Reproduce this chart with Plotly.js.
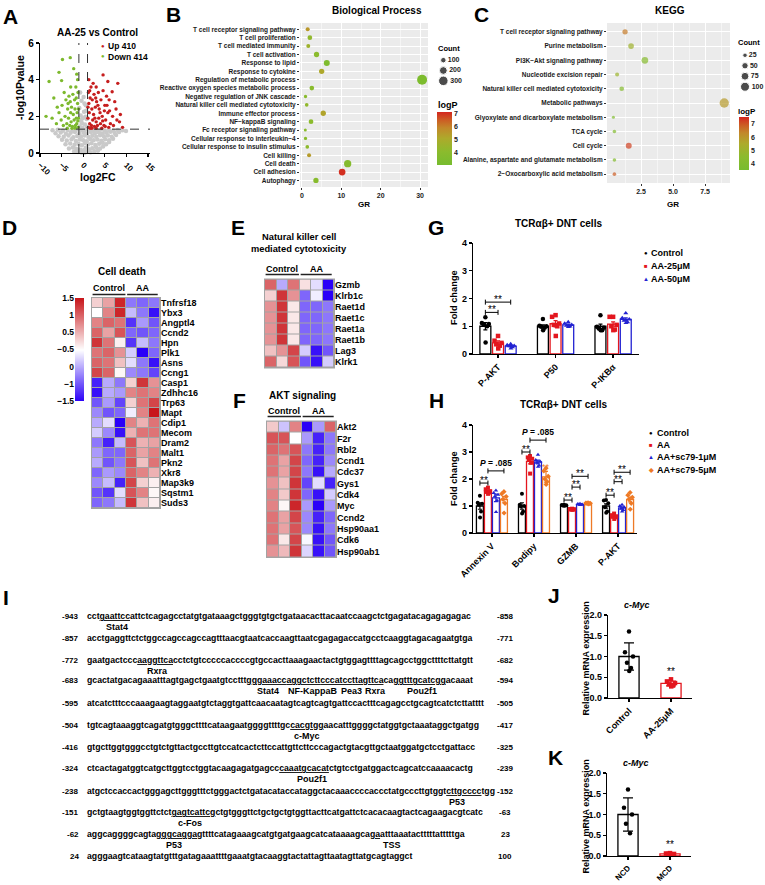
<!DOCTYPE html>
<html><head><meta charset="utf-8">
<script src="https://cdn.plot.ly/plotly-3.0.1.min.js"></script>
<style>html,body{margin:0;padding:0;background:#fff}#chart{width:765px;height:885px}</style>
</head><body><div id="chart"></div>
<script>
// ---------------- DATA ----------------
// A: volcano (log2FC, -log10P)
const volcanoNS = [[-2.1,0.08],[-1.2,0.05],[-0.4,0.03],[0.3,0.02],[0.9,0.06],[1.7,0.04],[2.6,0.09],[3.4,0.12],
[-3.3,0.25],[-2.4,0.3],[-1.6,0.22],[-0.7,0.18],[0.1,0.15],[0.6,0.28],[1.3,0.2],[2.1,0.26],[3.0,0.31],[3.9,0.24],[4.6,0.35],
[-4.1,0.48],[-3.0,0.52],[-2.0,0.45],[-1.1,0.5],[-0.3,0.42],[0.4,0.55],[1.1,0.47],[1.9,0.53],[2.8,0.44],[3.7,0.5],[4.5,0.56],[5.3,0.48],[6.0,0.6],
[-4.9,0.72],[-3.8,0.68],[-2.7,0.75],[-1.7,0.66],[-0.8,0.73],[0.0,0.7],[0.8,0.64],[1.6,0.77],[2.4,0.69],[3.3,0.74],[4.2,0.67],[5.1,0.75],[6.0,0.7],[6.9,0.78],
[-5.7,0.92],[-4.5,0.88],[-3.4,0.95],[-2.3,0.86],[-1.4,0.93],[-0.5,0.9],[0.3,0.96],[1.2,0.87],[2.1,0.94],[3.0,0.89],[3.9,0.97],[4.8,0.9],[5.7,0.95],[6.6,0.88],[7.6,0.98],
[-6.4,1.08],[-5.2,1.12],[-4.0,1.05],[-2.9,1.1],[-1.9,1.14],[-0.9,1.07],[0.1,1.12],[0.9,1.05],[1.8,1.15],[2.7,1.08],[3.6,1.13],[4.5,1.06],[5.4,1.11],[6.3,1.16],[7.3,1.09],[8.3,1.14],
[-7.1,1.24],[-5.9,1.27],[-4.7,1.22],[-3.6,1.26],[-2.5,1.23],[-1.5,1.28],[-0.5,1.25],[0.5,1.27],[1.4,1.22],[2.3,1.26],[3.2,1.24],[4.1,1.28],[5.0,1.23],[6.0,1.27],[7.0,1.22],[8.0,1.26],[9.1,1.24],[9.9,1.2],
[-0.8,1.45],[-0.3,1.62],[0.4,1.55],[0.8,1.85],[-0.6,2.05],[0.2,2.25],[-0.9,2.45],[0.6,2.6],[-0.4,2.85],[0.1,3.05],[-0.7,3.3],[0.5,1.98],[-0.2,1.38],[0.9,1.42],[-0.5,1.75],[0.3,2.7],[-0.1,1.9],[0.7,2.3]];
const volcanoDown = [[-1.2,1.4],[-1.5,1.6],[-1.1,1.9],[-1.8,1.5],[-2.1,1.8],[-1.4,2.2],[-2.5,1.45],[-2.8,1.7],[-1.9,2.4],[-1.3,2.7],[-2.3,2.1],[-3.1,1.5],[-3.4,1.9],[-2.7,2.5],[-1.6,3.0],[-3.8,1.6],[-2.0,2.9],[-1.2,3.3],[-4.2,2.0],[-3.0,2.8],[-4.6,1.5],[-1.7,3.6],[-2.4,3.2],[-3.6,2.4],[-5.1,1.8],[-1.3,4.0],[-4.0,2.9],[-2.9,3.6],[-5.6,2.2],[-6.2,1.6],[-5.0,3.95],[-5.6,4.4],[-4.8,5.1],[-3.0,5.2],[-7.9,3.9],[-8.6,2.0],[-6.0,2.5],[-6.8,3.0],[-4.4,3.3],[-1.5,4.3],[-2.2,4.6],[-7.2,1.9],[-3.3,3.1],[-1.9,1.35],[-1.1,2.4],[-2.6,1.35],[-3.7,1.35],[-4.9,2.6],[-1.6,1.9],[-2.9,2.2],[-3.5,2.7],[-1.25,1.75]];
const volcanoUp = [[1.2,1.4],[1.5,1.6],[1.1,1.9],[1.9,1.5],[2.2,1.8],[1.4,2.2],[2.6,1.45],[3.0,1.7],[2.0,2.4],[1.3,2.7],[2.4,2.1],[3.3,1.5],[3.6,1.9],[2.8,2.5],[1.6,3.0],[4.0,1.6],[2.1,2.9],[1.2,3.3],[4.4,2.0],[3.1,2.8],[4.8,1.5],[1.8,3.6],[2.5,3.2],[3.7,2.4],[5.2,1.8],[1.3,4.0],[4.1,2.9],[3.0,3.6],[5.7,2.2],[6.3,1.6],[4.6,4.26],[5.7,3.9],[8.0,3.8],[6.7,3.34],[7.3,2.8],[8.4,1.7],[9.1,1.4],[5.0,2.6],[6.0,2.9],[5.4,3.1],[4.6,3.4],[3.5,3.3],[2.3,3.8],[6.8,2.0],[7.6,2.4],[5.9,1.4],[7.0,1.5],[4.3,1.35],[3.0,1.35],[2.0,1.35],[1.6,1.35],[1.1,2.5],[2.7,1.9],[3.9,2.2],[4.9,2.3],[5.5,2.6],[6.1,2.3],[4.5,1.75],[5.1,1.45],[3.4,2.6],[2.9,3.0],[1.5,3.4],[8.6,2.1],[7.8,1.8]];
const volcanoLegend = ['Up 410', 'Down 414'];
const fcCut = 1, pCut = 1.3;

// B: GO Biological Process
const bpTerms = ['T cell receptor signaling pathway','T cell proliferation','T cell mediated immunity','T cell activation','Response to lipid','Response to cytokine','Regulation of metabolic process','Reactive oxygen species metabolic process','Negative regulation of JNK cascade','Natural killer cell mediated cytotoxicity','Immune effector process','NF\u2212kappaB signaling','Fc receptor signaling pathway','Cellular response to interleukin\u22124','Cellular response to insulin stimulus','Cell killing','Cell death','Cell adhesion','Autophagy'];
const bpGR = [1.45,2.0,1.6,3.7,6.3,5.0,30.5,2.5,0.9,1.2,5.4,2.3,0.85,0.9,1.35,1.8,11.6,10.2,3.55];
const bpCount = [53,73,53,93,119,93,330,73,36,45,93,73,30,36,45,53,176,148,93];
const bpLogP = [5.5,4.2,4.6,4.0,3.4,5.1,3.3,3.9,3.9,4.2,5.2,4.0,3.9,3.9,4.1,5.4,3.7,7.0,3.8];
const bpCountLegend = [100,200,300];

// C: KEGG
const keggTerms = ['T cell receptor signaling pathway','Purine metabolism','PI3K\u2212Akt signaling pathway','Nucleotide excision repair','Natural killer cell mediated cytotoxicity','Metabolic pathways','Glyoxylate and dicarboxylate metabolism','TCA cycle','Cell cycle','Alanine, aspartate and glutamate metabolism','2\u2212Oxocarboxylic acid metabolism'];
const keggGR = [1.25,1.72,2.8,0.63,0.99,9.0,0.34,0.42,1.54,0.42,0.42];
const keggCount = [35,40,55,20,27,107,12,16,44,16,16];
const keggLogP = [6.5,5.1,4.3,5.0,4.2,5.9,4.0,4.1,7.2,4.1,6.9];
const keggCountLegend = [25,50,75,100];

// D/E/F heatmaps (z-scores; columns Control x3, AA x3)
const heatGroups = ['Control','AA'];
const heatScaleTicks = [1.5,1,0.5,0,-0.5,-1,-1.5];
const heatScaleText = ['1.5','1','0.5','\u22120.5','0','\u22121','\u22121.5'];
const deathGenes = ['Tnfrsf18','Ybx3','Angptl4','Ccnd2','Hpn','Plk1','Asns','Ccng1','Casp1','Zdhhc16','Trp63','Mapt','Cdip1','Mecom','Dram2','Malt1','Pkn2','Xkr8','Map3k9','Sqstm1','Suds3'];
const deathZ = [[0.3,0.6,1.4,-0.8,-0.9,-0.8],[0.0,0.8,1.4,-0.4,-0.8,-1.4],[0.8,1.0,0.9,-1.2,-0.6,-1.0],[1.0,0.6,1.1,-0.9,-1.0,-0.9],[1.3,0.9,0.1,-1.2,-0.4,-0.8],[0.9,1.0,0.7,-0.3,-1.5,-0.9],[1.0,0.9,0.4,-0.2,-0.8,-1.4],[1.2,1.0,0.05,-0.7,-0.8,-1.1],[-1.3,-0.5,-0.8,0.3,1.3,0.7],[-1.4,-0.5,-0.6,0.8,0.9,0.8],[-1.0,-0.6,-1.1,0.3,0.9,1.2],[-0.7,-1.0,-0.9,-0.1,0.8,1.5],[-0.5,-0.2,-1.5,0.8,0.5,0.9],[-0.3,-0.7,-1.4,0.5,0.9,0.9],[-0.8,-1.3,-0.4,1.1,0.5,0.6],[-0.6,-0.9,-0.9,1.0,0.6,0.8],[-0.5,-1.0,-0.8,1.1,0.4,0.9],[-0.9,-0.6,-0.7,1.0,0.8,0.5],[-0.7,-0.4,-1.3,1.2,0.3,0.1],[-1.0,-1.2,-0.2,1.1,0.8,0.05],[-0.9,-0.8,-0.4,1.3,0.4,0.1]];
const nkGenes = ['Gzmb','Klrb1c','Raet1d','Raet1c','Raet1a','Raet1b','Lag3','Klrk1'];
const nkZ = [[1.0,-0.5,0.9,0.2,-0.2,-1.5],[0.3,1.3,0.7,-0.9,-0.1,-1.5],[0.7,1.3,0.15,-0.9,-0.9,-0.8],[0.7,1.3,0.15,-0.9,-0.9,-0.8],[0.7,1.3,0.15,-0.9,-0.9,-0.8],[0.7,1.3,0.15,-0.9,-0.9,-0.8],[0.4,0.7,1.2,-0.3,-1.4,-1.0],[1.0,0.25,1.1,-1.0,-1.4,-0.3]];
const aktGenes = ['Akt2','F2r','Rbl2','Ccnd1','Cdc37','Gys1','Cdk4','Myc','Ccnd2','Hsp90aa1','Cdk6','Hsp90ab1'];
const aktZ = [[0.35,-0.35,0.8,-1.5,-0.6,1.0],[1.1,1.1,0.0,-0.6,-1.3,-0.8],[1.0,0.9,1.1,-0.8,-1.3,-0.8],[0.9,0.6,1.2,-0.9,-1.3,-0.7],[0.9,0.6,1.2,-0.8,-1.4,-0.5],[0.7,0.4,1.3,-1.1,-0.2,-1.3],[0.8,0.35,1.3,-0.9,-1.4,-0.3],[0.8,0.05,1.4,-0.6,-1.5,-0.6],[0.9,0.6,1.2,-0.7,-1.3,-0.9],[0.9,0.6,1.1,-0.7,-1.4,-0.8],[0.9,0.15,1.2,-0.05,-1.4,-1.0],[0.7,0.45,1.3,-0.25,-1.4,-1.0]];

// G: TCRab+ DNT cells (fold change)
const gCats = ['P-AKT','P50','P-IKB\u03b1'];
const gSeries = ['Control','AA-25\u03bcM','AA-50\u03bcM'];
const gMean = [[1.0,1.0,1.0],[0.4,1.09,1.08],[0.285,1.05,1.25]];
const gErr = [[0.13,0.05,0.08],[0.07,0.11,0.08],[0.025,0.03,0.05]];
const gPoints = [
 [[1.32,1.12,1.08,1.05,1.0,0.41],[1.26,1.02,1.0,0.98,0.95,0.86],[1.4,0.98,0.95,0.92,0.86,0.86]],
 [[0.65,0.48,0.4,0.35,0.3,0.2],[1.4,1.34,1.1,1.05,1.0,0.65],[1.34,1.34,1.05,1.0,0.88,0.86]],
 [[0.36,0.32,0.3,0.28,0.25,0.2],[1.15,1.1,1.05,1.02,1.0,0.98],[1.47,1.3,1.25,1.2,1.15,1.12]]];
const gSig = [{g:0,a:0,b:1,y:1.5,t:'**'},{g:0,a:0,b:2,y:1.87,t:'**'}];

// H: TCRab+ DNT cells with sc79
const hCats = ['Annexin V','Bodipy','GZMB','P-AKT'];
const hSeries = ['Control','AA','AA+sc79-1\u03bcM','AA+sc79-5\u03bcM'];
const hMean = [[1.0,1.0,1.03,1.0],[1.55,2.65,0.88,0.62],[1.3,2.63,1.06,0.93],[1.24,2.08,1.1,1.24]];
const hErr = [[0.12,0.12,0.01,0.08],[0.04,0.09,0.02,0.03],[0.14,0.07,0.02,0.04],[0.12,0.2,0.02,0.09]];
const hPoints = [
 [[1.38,1.12,1.08,1.05,0.8,0.57],[1.45,1.05,1.0,0.98,0.8,0.72],[1.05,1.04,1.03,1.02,1.02,1.01],[1.22,1.2,1.1,0.95,0.8,0.75]],
 [[1.68,1.62,1.55,1.52,1.5,1.45],[2.85,2.8,2.75,2.7,2.6,2.2],[0.9,0.89,0.88,0.87,0.87,0.86],[0.72,0.66,0.62,0.6,0.58,0.52]],
 [[1.57,1.48,1.42,1.35,1.2,0.78],[2.9,2.7,2.65,2.6,2.5,2.45],[1.08,1.07,1.06,1.06,1.05,1.04],[1.05,1.0,0.95,0.9,0.85,0.8]],
 [[1.53,1.45,1.35,1.25,1.1,0.74],[2.4,2.3,2.1,2.0,1.9,1.8],[1.12,1.11,1.1,1.1,1.09,1.08],[1.5,1.4,1.32,1.25,1.1,0.88]]];
const hSig = [{g:0,a:0,b:1,y:1.85,t:'**'},{g:0,a:1,b:3,y:2.3,t:'<i>P</i> = .085'},
 {g:1,a:0,b:1,y:3.0,t:'**'},{g:1,a:1,b:3,y:3.44,t:'<i>P</i> = .085'},
 {g:2,a:0,b:1,y:1.22,t:'**'},{g:2,a:1,b:2,y:1.7,t:'**'},{g:2,a:1,b:3,y:2.1,t:'**'},
 {g:3,a:0,b:1,y:1.4,t:'**'},{g:3,a:1,b:2,y:1.9,t:'**'},{g:3,a:1,b:3,y:2.25,t:'**'}];
const hMarks = [{g:1,s:3,t:'**'}];

// I: promoter sequence ([..] = underlined binding site)
const seqStart = ['-943','-857','-772','-683','-595','-504','-416','-324','-238','-151','-62','24'];
const seqEnd = ['-858','-771','-682','-594','-505','-417','-325','-239','-152','-63','23','100'];
const seqLines = [
 'cct[gaattcc]attctcagagcctatgtgataaagctgggtgtgctgataacacttacaatccaagctctgagatacagagagagac',
 'acctgaggttctctggccagccagccagtttaacgtaatcaccaagttaatcgagagaccatgcctcaaggtagacagaatgtga',
 'gaatgactccc[aaggttca]cctctgtcccccaccccgtgccacttaaagaactactgtggagttttagcagcctggcttttcttatgtt',
 'gcactatgacagaaatttagtgagctgaatgtcctttg[ggaaacc][aggctctt][cccatcc][ttagttca]ca[ggtttgcatcgg]acaaat',
 'atcatctttcccaaagaagtaggaatgtctaggtgattcaacaatagtcagtcagtgattccactttcagagcctgcagtcatctcttatttt',
 'tgtcagtaaaggtcagatgtgggcttttcataagaatggggttttgc[cacgtgg]aacatttggggctatggtgctaaataggctgatgg',
 'gtgcttggtgggcctgtctgttactgccttgtccatcactcttccattgttcttcccagactgtacgttgctaatggatgctcctgattacc',
 'ctcactagatggtcatgcttggtcctggtacaagagatgagcc[caaatgcacat]ctgtcctgatggactcagcatccaaaacactg',
 'atgctccaccactgggagcttgggtttctgggactctgatacataccataggctacaaaccccaccctatgcccttgtggt[cttgcccc]tgg',
 'gctgtaagtggtggttctct[gagtcattcg]ctgtgggttctgctgctgtggttacttcatgattctcacacaagtactcagaagacgtcatc',
 'aggcaggggcagta[gggcagga]gttttcatagaaagcatgtgatgaagcatcataaaagca[ga]atttaaatactttttatttttga',
 'agggaagtcataagtatgtttgatagaaattttgaaatgtacaaggtactattagttaatagttatgcagtaggct'];
const seqSites = [[0,'Stat4'],[2,'Rxra'],[3,'Stat4'],[3,'NF-KappaB'],[3,'Pea3'],[3,'Rxra'],[3,'Pou2f1'],[5,'c-Myc'],[7,'Pou2f1'],[8,'P53'],[9,'c-Fos'],[10,'P53'],[10,'TSS']];

// J / K: c-Myc relative mRNA expression
const jCats = ['Control','AA-25\u03bcM'];
const jMean = [1.0,0.35];
const jErr = [0.33,0.06];
const jPoints = [[1.6,1.1,1.0,0.85,0.72,0.65],[0.45,0.4,0.36,0.33,0.3,0.28]];
const kCats = ['NCD','MCD'];
const kMean = [1.0,0.05];
const kErr = [0.4,0.01];
const kPoints = [[1.6,1.16,1.0,0.78,0.55],[0.07,0.06,0.05,0.05,0.04]];
const mycSig = '**';

// ---------------- LAYOUT HELPERS ----------------
const W = 765, H = 885;
const PX = x => x / W, PY = y => 1 - y / H;
const DX = (a, b) => [a / W, b / W];
const DY = (t, b) => [1 - b / H, 1 - t / H];
const FONT = 'Liberation Sans, Arial, sans-serif';
const F = (size, extra) => Object.assign({family: FONT, size: size, color: '#000', weight: 'bold'}, extra || {});
const annotations = [], shapes = [], traces = [];
function txt(x, y, text, o) {
  o = o || {};
  const a = Object.assign({xref: 'paper', yref: 'paper', x: PX(x), y: PY(y), text: text, showarrow: false,
    xanchor: 'center', yanchor: 'middle', borderpad: 0}, o);
  a.font = F(o.size || 9, o.font || {});
  delete a.size;
  return annotations.push(a);
}
function gp(extra) {
  return Object.assign({showline: true, linecolor: '#000', linewidth: 1.3, ticks: 'outside', ticklen: 3,
    tickwidth: 1.3, tickcolor: '#000', showgrid: false, zeroline: false, fixedrange: true,
    tickfont: F(9)}, extra);
}
function gg(extra) {
  return Object.assign({showline: false, ticks: 'outside', ticklen: 2, tickwidth: 1, tickcolor: '#333',
    showgrid: true, gridcolor: '#fff', gridwidth: 1, zeroline: false, fixedrange: true,
    tickfont: F(7, {color: '#222'})}, extra);
}
function hidden(dom, range, anchor) {
  return {domain: dom, range: range, visible: false, fixedrange: true, anchor: anchor};
}
const layout = {width: W, height: H, margin: {l: 0, r: 0, t: 0, b: 0}, autosize: false,
  paper_bgcolor: '#fff', plot_bgcolor: 'rgba(0,0,0,0)', showlegend: false, barmode: 'overlay',
  font: F(9), annotations: annotations, shapes: shapes};

// panel letters
[['A',2,16],['B',165,14],['C',473,14],['D',1,228],['E',230,228],['F',232,400],['G',427,227],['H',428,400],['I',2,597],['J',547,595],['K',547,757]]
  .forEach(l => txt(l[1], l[2], l[0], {xanchor: 'left', size: 21}));

// ---------------- A: volcano ----------------
layout.xaxis = gp({domain: DX(40, 150), range: [-10, 15.46], anchor: 'y', tickvals: [-10,-5,0,5,10,15], tickangle: 45, tickfont: F(8)});
layout.yaxis = gp({domain: DY(43, 153), range: [0, 6], anchor: 'x', dtick: 2, tickfont: F(10)});
[[volcanoNS,'#C9C9C9',4.5],[volcanoDown,'#7DB92E',3.4],[volcanoUp,'#C61E1E',3.4]].forEach(v => traces.push({
  type: 'scatter', mode: 'markers', x: v[0].map(p => p[0]), y: v[0].map(p => p[1]), xaxis: 'x', yaxis: 'y',
  marker: {color: v[1], size: v[2]}, hoverinfo: 'skip', cliponaxis: false}));
[-fcCut, fcCut].forEach(c => shapes.push({type: 'line', xref: 'x', yref: 'y', x0: c, x1: c, y0: 0, y1: 6, line: {color: '#333', width: 1, dash: 'dash'}}));
shapes.push({type: 'line', xref: 'x', yref: 'y', x0: -10, x1: 15.46, y0: pCut, y1: pCut, line: {color: '#333', width: 1, dash: 'dash'}});
txt(98, 32, 'AA-25 vs Control', {size: 10});
txt(20, 88, '-log10Pvalue', {size: 10.5, textangle: -90});
txt(98, 177, 'log2FC', {size: 10.5});
txt(103, 46.5, '<span style="color:#C61E1E;font-size:6px">\u25CF</span>', {});
txt(103, 56.5, '<span style="color:#7DB92E;font-size:6px">\u25CF</span>', {});
txt(107, 46.5, volcanoLegend[0], {xanchor: 'left', size: 8.5});
txt(107, 57, volcanoLegend[1], {xanchor: 'left', size: 8.5});

// ---------------- B / C: enrichment dot plots ----------------
const goScale = [[0,'#77BC2F'],[0.25,'#8BBB2D'],[0.5,'#ADAA2B'],[0.7,'#C2882A'],[0.85,'#CC5C24'],[1,'#D4261F']];
const bpSize = c => 0.55 * Math.sqrt(c);
const kgSize = c => 0.9 * Math.sqrt(c);
shapes.push({type: 'rect', xref: 'paper', yref: 'paper', x0: PX(300), x1: PX(428), y0: PY(187), y1: PY(23), fillcolor: '#EBEBEB', line: {width: 0}, layer: 'below'});
shapes.push({type: 'rect', xref: 'paper', yref: 'paper', x0: PX(607), x1: PX(730), y0: PY(183), y1: PY(23), fillcolor: '#EBEBEB', line: {width: 0}, layer: 'below'});
layout.xaxis2 = gg({domain: DX(300, 428), range: [-0.5, 32], anchor: 'y2', tickvals: [0,10,20,30],
  minor: {tickvals: [5,15,25], showgrid: true, gridcolor: '#fff', gridwidth: 0.5, ticks: ''}});
layout.yaxis2 = gg({domain: DY(23, 187), type: 'category', categoryarray: bpTerms, tickmode: 'array', tickvals: bpTerms,
  range: [bpTerms.length - 1 + 0.78, -0.75], anchor: 'x2', tickfont: F(6.5, {color: '#1a1a1a'})});
traces.push({type: 'scatter', mode: 'markers', x: bpGR, y: bpTerms, xaxis: 'x2', yaxis: 'y2', hoverinfo: 'skip',
  marker: {size: bpCount.map(bpSize), color: bpLogP, colorscale: goScale, cmin: 3.0, cmax: 7.1, line: {width: 0}, opacity: 1,
    showscale: true, colorbar: {x: PX(437), xanchor: 'left', y: PY(112), yanchor: 'top', len: 53, lenmode: 'pixels',
      thickness: 15, thicknessmode: 'pixels', xpad: 0, ypad: 0, outlinewidth: 0, ticks: '', tickvals: [4,5,6,7], tickfont: F(7, {color: '#222'})}}});
txt(364, 205, 'GR', {size: 8});
txt(377, 11, 'Biological Process', {size: 10});
txt(437, 48, 'Count', {xanchor: 'left', size: 7.5});
txt(437, 105, 'logP', {xanchor: 'left', size: 9});
layout.xaxis12 = hidden(DX(438, 470), [-1, 5], 'y12');
layout.yaxis12 = hidden(DY(55, 86), [2.5, -0.5], 'x12');
traces.push({type: 'scatter', mode: 'markers+text', x: bpCountLegend.map(() => 0), y: bpCountLegend.map((c, i) => i), xaxis: 'x12', yaxis: 'y12',
  text: bpCountLegend.map(String), textposition: 'middle right', textfont: F(7, {color: '#222'}), cliponaxis: false, hoverinfo: 'skip',
  marker: {size: bpCountLegend.map(bpSize), color: '#000'}});

layout.xaxis3 = gg({domain: DX(607, 730), range: [-0.16, 9.45], anchor: 'y3', tickvals: [2.5,5,7.5], ticktext: ['2.5','5.0','7.5'],
  minor: {tickvals: [1.25,3.75,6.25,8.75], showgrid: true, gridcolor: '#fff', gridwidth: 0.5, ticks: ''}});
layout.yaxis3 = gg({domain: DY(23, 183), type: 'category', categoryarray: keggTerms, tickmode: 'array', tickvals: keggTerms,
  range: [keggTerms.length - 1 + 0.62, -0.62], anchor: 'x3', tickfont: F(6.5, {color: '#1a1a1a'})});
traces.push({type: 'scatter', mode: 'markers', x: keggGR, y: keggTerms, xaxis: 'x3', yaxis: 'y3', hoverinfo: 'skip',
  marker: {size: keggCount.map(kgSize), color: keggLogP, colorscale: goScale, cmin: 3.55, cmax: 7.5, line: {width: 0},
    showscale: true, colorbar: {x: PX(739), xanchor: 'left', y: PY(117), yanchor: 'top', len: 53, lenmode: 'pixels',
      thickness: 10, thicknessmode: 'pixels', xpad: 0, ypad: 0, outlinewidth: 0, ticks: '', tickvals: [4,5,6,7], tickfont: F(7, {color: '#222'})}}});
txt(673, 205, 'GR', {size: 8});
txt(670, 11, 'KEGG', {size: 10});
txt(737, 42, 'Count', {xanchor: 'left', size: 7.5});
txt(737, 111, 'logP', {xanchor: 'left', size: 8});
layout.xaxis13 = hidden(DX(740, 765), [-1, 4], 'y13');
layout.yaxis13 = hidden(DY(50, 92), [3.5, -0.5], 'x13');
traces.push({type: 'scatter', mode: 'markers+text', x: keggCountLegend.map(() => 0), y: keggCountLegend.map((c, i) => i), xaxis: 'x13', yaxis: 'y13',
  text: keggCountLegend.map(String), textposition: 'middle right', textfont: F(7, {color: '#222'}), cliponaxis: false, hoverinfo: 'skip',
  marker: {size: keggCountLegend.map(kgSize), color: '#000'}});

// ---------------- D/E/F heatmaps ----------------
const heatScale = [[0,'#2A00F8'],[0.5,'#FFFFFF'],[1,'#C8161B']];
function heat(ax, ay, genes, z, x0, x1, y0, y1, titleY, lineY) {
  layout['xaxis' + ax] = hidden(DX(x0, x1), [-0.5, 5.5], 'y' + ay);
  layout['yaxis' + ay] = {domain: DY(y0, y1), type: 'category', range: [genes.length - 0.5, -0.5], side: 'right', anchor: 'x' + ax,
    tickmode: 'array', tickvals: genes, ticktext: genes,
    showline: false, ticks: '', showgrid: false, zeroline: false, fixedrange: true, tickfont: F(9)};
  shapes.push({type: 'rect', xref: 'paper', yref: 'paper', x0: PX(x0 - 1), x1: PX(x1 + 1), y0: PY(y1 + 1), y1: PY(y0 - 1),
    fillcolor: '#A3A3A3', line: {width: 0}, layer: 'below'});
  traces.push({type: 'heatmap', z: z, x: [0,1,2,3,4,5], y: genes, xaxis: 'x' + ax, yaxis: 'y' + ay, colorscale: heatScale,
    zmin: -1.5, zmax: 1.5, xgap: 1, ygap: 1, showscale: false, hoverinfo: 'skip'});
  heatGroups.forEach((g, i) => {
    annotations.push({xref: 'x' + ax, yref: 'paper', x: i === 0 ? 1 : 4, y: PY(titleY), text: g, showarrow: false, font: F(9), yanchor: 'middle'});
    shapes.push({type: 'line', xref: 'x' + ax, yref: 'paper', x0: i === 0 ? -0.45 : 2.6, x1: i === 0 ? 2.45 : 5.3,
      y0: PY(lineY), y1: PY(lineY), line: {color: '#222', width: 1.5}});
  });
}
heat(4, 4, deathGenes, deathZ, 92, 160, 298, 508, 288, 294.5);
heat(6, 6, nkGenes, nkZ, 265, 334, 279.5, 367.5, 269, 274.5);
heat(7, 7, aktGenes, aktZ, 267, 336, 421.5, 557, 411, 416.5);
txt(122, 272, 'Cell death', {size: 10});
txt(299, 237, 'Natural killer cell', {size: 9.3});
txt(299, 249, 'mediated cytotoxicity', {size: 9.3});
txt(302, 395, 'AKT signaling', {size: 10});
// colour scale for heatmaps
layout.xaxis5 = hidden(DX(75, 84), [0, 1], 'y5');
layout.yaxis5 = {domain: DY(298, 401), range: [-1.5, 1.5], anchor: 'x5', side: 'left', tickvals: heatScaleTicks, ticktext: heatScaleText,
  ticks: '', showline: false, showgrid: false, zeroline: false, fixedrange: true, tickfont: F(8.5)};
traces.push({type: 'heatmap', z: [[-1.5,-1.5],[1.5,1.5]], x: [0,1], y: [-1.5,1.5], xaxis: 'x5', yaxis: 'y5', zsmooth: 'best',
  colorscale: heatScale, zmin: -1.5, zmax: 1.5, showscale: false, hoverinfo: 'skip'});

// ---------------- G / H grouped bars ----------------
const spread = [0, -0.32, 0.32, -0.16, 0.16, 0.02];
function bars(ax, cats, series, mean, err, pts, cols, syms, offs, w, msize) {
  series.forEach((s, si) => {
    traces.push({type: 'bar', x: cats.map((c, ci) => ci), y: mean[si], xaxis: 'x' + ax, yaxis: 'y' + ax, offset: offs[si] - w / 2, width: w,
      marker: {color: '#fff', line: {color: cols[si], width: 1.3}}, hoverinfo: 'skip',
      error_y: {type: 'data', array: err[si], color: cols[si], thickness: 1.2, width: 2}});
    const xs = [], ys = [];
    pts[si].forEach((arr, ci) => arr.forEach((v, k) => { xs.push(ci + offs[si] + spread[k] * w); ys.push(v); }));
    traces.push({type: 'scatter', mode: 'markers', x: xs, y: ys, xaxis: 'x' + ax, yaxis: 'y' + ax, cliponaxis: false, hoverinfo: 'skip',
      marker: {symbol: syms[si], color: cols[si], size: msize}});
  });
}
function sig(ax, list, offs, pxPerUnit) {
  const cap = 2.5 / pxPerUnit;
  list.forEach(s => {
    const xa = s.g + offs[s.a], xb = s.g + offs[s.b];
    const ln = {color: '#000', width: 1};
    shapes.push({type: 'line', xref: 'x' + ax, yref: 'y' + ax, x0: xa, x1: xb, y0: s.y, y1: s.y, line: ln});
    shapes.push({type: 'line', xref: 'x' + ax, yref: 'y' + ax, x0: xa, x1: xa, y0: s.y - cap, y1: s.y + cap, line: ln});
    shapes.push({type: 'line', xref: 'x' + ax, yref: 'y' + ax, x0: xb, x1: xb, y0: s.y - cap, y1: s.y + cap, line: ln});
    const star = s.t === '**';
    annotations.push({xref: 'x' + ax, yref: 'y' + ax, x: (xa + xb) / 2, y: s.y + (star ? 2.5 : 8) / pxPerUnit, text: s.t, showarrow: false,
      yanchor: 'middle', borderpad: 0, font: F(star ? 10 : 8.5, {weight: star ? 'normal' : 'bold'})});
  });
}
// G
const gCols = ['#000000', '#E3161E', '#2323D2'];
const gSyms = ['circle', 'square', 'triangle-up'];
const gOffs = [-0.22, 0, 0.22];
layout.xaxis8 = gp({domain: DX(473, 639), range: [-0.435, 2.45], anchor: 'y8', tickvals: [0,1,2], ticktext: gCats, tickangle: -45});
layout.yaxis8 = gp({domain: DY(243, 354), range: [0, 4], anchor: 'x8', dtick: 1});
bars(8, gCats, gSeries, gMean, gErr, gPoints, gCols, gSyms, gOffs, 0.19, 4.5);
sig(8, gSig, gOffs, 27.75);
txt(558, 224, 'TCR\u03b1\u03b2+ DNT cells', {size: 10});
txt(454, 298, 'Fold change', {textangle: -90, size: 9.3});
gSeries.forEach((s, i) => {
  txt(646, 253 + i * 13, '<span style="color:' + gCols[i] + ';font-size:6px">' + ['\u25CF','\u25A0','\u25B2'][i] + '</span>');
  txt(650, 253 + i * 13, s, {xanchor: 'left', size: 9});
});
// H
const hCols = ['#000000', '#E3161E', '#2323D2', '#EE7A26'];
const hSyms = ['circle', 'square', 'triangle-up', 'diamond'];
const hOffs = [-0.286, -0.095, 0.095, 0.286];
layout.xaxis9 = gp({domain: DX(473, 637), range: [-0.45, 3.45], anchor: 'y9', tickvals: [0,1,2,3], ticktext: hCats, tickangle: -45});
layout.yaxis9 = gp({domain: DY(425, 533), range: [0, 4], anchor: 'x9', dtick: 1});
bars(9, hCats, hSeries, hMean, hErr, hPoints, hCols, hSyms, hOffs, 0.165, 4);
sig(9, hSig, hOffs, 27);
hMarks.forEach(m => annotations.push({xref: 'x9', yref: 'y9', x: m.g + hOffs[m.s], y: hMean[m.s][m.g] + hErr[m.s][m.g] + 4 / 27,
  text: m.t, showarrow: false, yanchor: 'middle', font: F(9, {color: hCols[m.s], weight: 'normal'})}));
txt(563, 404, 'TCR\u03b1\u03b2+ DNT cells', {size: 10});
txt(454, 479, 'Fold change', {textangle: -90, size: 9.3});
hSeries.forEach((s, i) => {
  txt(651, 433 + i * 12.2, '<span style="color:' + hCols[i] + ';font-size:6px">' + ['\u25CF','\u25A0','\u25B2','\u25C6'][i] + '</span>');
  txt(656, 433 + i * 12.2, s, {xanchor: 'left', size: 9});
});

// ---------------- J / K ----------------
function myc(ax, cats, mean, err, pts, x0, x1, y0, y1, tY, tickSize) {
  const cols = ['#000000', '#E3161E'], syms = ['circle', 'square'];
  const ppu = (y1 - y0) / 2;
  layout['xaxis' + ax] = gp({domain: DX(x0, x1), range: [-0.5, 1.5], anchor: 'y' + ax, tickvals: [0, 1], ticktext: cats, tickangle: -45, tickfont: F(tickSize)});
  layout['yaxis' + ax] = gp({domain: DY(y0, y1), range: [0, 2], anchor: 'x' + ax, dtick: 0.5, tickformat: '.1f'});
  cats.forEach((c, i) => {
    traces.push({type: 'bar', x: [i], y: [mean[i]], width: 0.48, xaxis: 'x' + ax, yaxis: 'y' + ax, hoverinfo: 'skip',
      marker: {color: '#fff', line: {color: cols[i], width: 1.3}},
      error_y: {type: 'data', array: [err[i]], color: cols[i], thickness: 1.2, width: 5}});
    traces.push({type: 'scatter', mode: 'markers', x: pts[i].map((v, k) => i + spread[k] * 0.3), y: pts[i], xaxis: 'x' + ax, yaxis: 'y' + ax,
      cliponaxis: false, hoverinfo: 'skip', marker: {symbol: syms[i], color: cols[i], size: 4.5}});
  });
  annotations.push({xref: 'x' + ax, yref: 'y' + ax, x: 1, y: mean[1] + err[1] + 9 / ppu, text: mycSig, showarrow: false,
    yanchor: 'middle', font: F(10, {weight: 'normal'})});
  txt((x0 + x1) / 2 - 13, tY, '<i>c-Myc</i>', {size: 9});
  txt(585, (y0 + y1) / 2 + 2, 'Relative mRNA expression', {textangle: -90, size: 9});
}
myc(10, jCats, jMean, jErr, jPoints, 608, 692, 615, 698, 605, 9);
myc(11, kCats, kMean, kErr, kPoints, 607, 691, 773, 856, 763, 8);

// ---------------- I: sequence ----------------
const seqY = [616, 638, 660, 680, 703, 725, 747, 768, 791, 812, 834, 856];
const siteX = [117, 157, 268, 313, 351, 375, 422, 307, 312, 457, 190, 174, 392];
seqLines.forEach((s, i) => {
  txt(80, seqY[i], seqStart[i], {xanchor: 'right', size: 8});
  txt(86, seqY[i], s.replace(/\[/g, '<u>').replace(/\]/g, '</u>'), {xanchor: 'left', size: 8.7});
  txt(505, seqY[i], seqEnd[i], {size: 8});
});
seqSites.forEach((s, i) => txt(siteX[i], seqY[s[0]] + 11, s[1], {size: 9}));

Plotly.newPlot('chart', traces, layout, {staticPlot: true, displayModeBar: false});
</script></body></html>
